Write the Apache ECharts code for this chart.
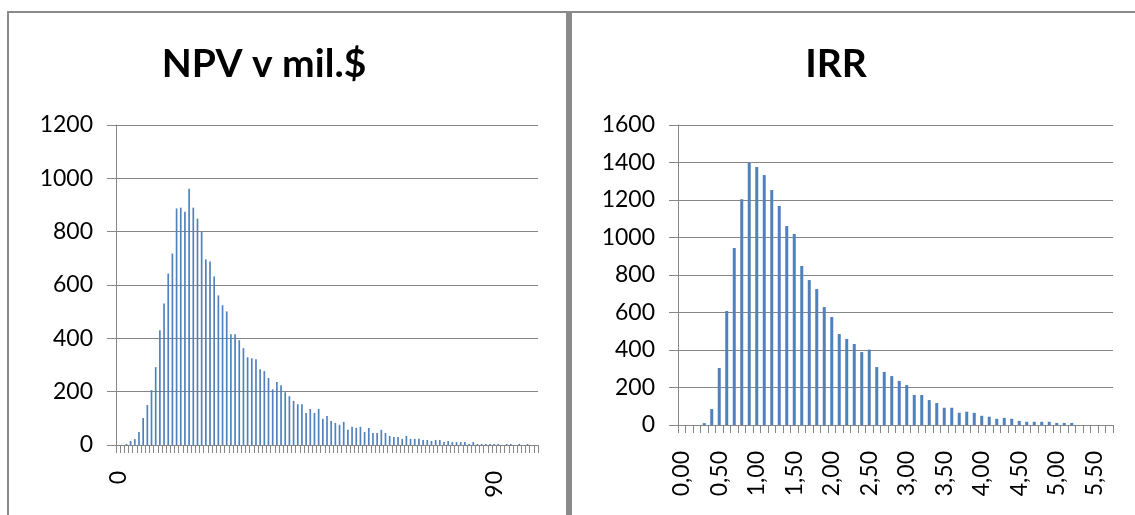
<!DOCTYPE html>
<html>
<head>
<meta charset="utf-8">
<script src="https://cdn.jsdelivr.net/npm/echarts@6/dist/echarts.min.js"></script>
<style>
  html, body { margin: 0; padding: 0; background: #fff; }
  #chart { width: 1135px; height: 515px; }
</style>
</head>
<body>
<div id="chart"></div>
<script>
// NPV histogram: bins of 1 mil.$ from 0 to 100
const npvBins = Array.from({ length: 101 }, (_, i) => String(i));
const npvCounts = [
  0, 0, 4, 15, 22, 49, 101, 150, 206, 292,
  430, 531, 643, 718, 887, 890, 875, 961, 890, 849,
  800, 696, 688, 632, 561, 524, 501, 415, 415, 393,
  363, 329, 325, 322, 284, 277, 251, 209, 236, 224,
  198, 183, 165, 153, 153, 120, 135, 120, 135, 98,
  109, 90, 83, 76, 87, 57, 68, 64, 68, 49,
  64, 45, 45, 57, 45, 34, 30, 30, 23, 34,
  23, 23, 23, 19, 19, 15, 19, 19, 11, 15,
  11, 11, 11, 11, 4, 11, 4, 4, 4, 4,
  4, 4, 0, 4, 4, 0, 4, 0, 4, 0,
  0
];

// IRR histogram: bins of 0,10 from 0,00 to 5,70
const irrBins = [
  '0,00', '0,10', '0,20', '0,30', '0,40', '0,50', '0,60', '0,70', '0,80', '0,90',
  '1,00', '1,10', '1,20', '1,30', '1,40', '1,50', '1,60', '1,70', '1,80', '1,90',
  '2,00', '2,10', '2,20', '2,30', '2,40', '2,50', '2,60', '2,70', '2,80', '2,90',
  '3,00', '3,10', '3,20', '3,30', '3,40', '3,50', '3,60', '3,70', '3,80', '3,90',
  '4,00', '4,10', '4,20', '4,30', '4,40', '4,50', '4,60', '4,70', '4,80', '4,90',
  '5,00', '5,10', '5,20', '5,30', '5,40', '5,50', '5,60', '5,70'
];
const irrCounts = [
  0, 0, 0, 10, 85, 304, 608, 944, 1204, 1397,
  1376, 1333, 1253, 1168, 1061, 1019, 848, 773, 725, 629,
  576, 485, 459, 432, 389, 402, 309, 283, 261, 235,
  213, 160, 160, 133, 117, 92, 92, 65, 71, 65,
  49, 44, 33, 38, 33, 22, 17, 17, 17, 17,
  11, 11, 11, 0, 0, 0, 0, 0
];

const titles = ['NPV v mil.$', 'IRR'];

const GRAY = '#868686';
const BORDER = '#8a8a8a';
const BAR = '#4f81bd';
const FONT = 'Lato, "Open Sans", sans-serif';

function catAxis(gridIndex, data, labelInterval) {
  return {
    type: 'category',
    gridIndex,
    data,
    boundaryGap: true,
    axisLine: { show: true, lineStyle: { color: GRAY, width: 1 } },
    axisTick: { show: true, interval: 0, length: 8, lineStyle: { color: GRAY, width: 1 } },
    axisLabel: {
      interval: labelInterval,
      rotate: 90,
      margin: 26,
      color: '#000',
      fontFamily: FONT,
      fontSize: 23
    },
    splitLine: { show: false }
  };
}

function valAxis(gridIndex, max) {
  return {
    type: 'value',
    gridIndex,
    min: 0,
    max,
    interval: 200,
    axisLine: { show: true, lineStyle: { color: GRAY, width: 1 } },
    axisTick: { show: true, length: 9, lineStyle: { color: GRAY, width: 1 } },
    axisLabel: {
      margin: 23, color: '#000', fontFamily: FONT, fontSize: 23,
      formatter: (v) => String(v)
    },
    splitLine: { show: true, lineStyle: { color: GRAY, width: 1 } }
  };
}

const chart = echarts.init(document.getElementById('chart'), null, { renderer: 'canvas' });

chart.setOption({
  backgroundColor: '#fff',
  animation: false,
  graphic: [
    // panel frames
    { type: 'rect', shape: { x: 7, y: 11, width: 1128, height: 2 }, style: { fill: BORDER } },
    { type: 'rect', shape: { x: 7, y: 11, width: 2, height: 504 }, style: { fill: BORDER } },
    { type: 'rect', shape: { x: 566, y: 11, width: 6, height: 504 }, style: { fill: BORDER } },
    // chart titles
    {
      type: 'text', x: 264, y: 64,
      style: {
        text: titles[0], fill: '#000', font: 'bold 39px ' + FONT,
        textAlign: 'center', textVerticalAlign: 'middle', align: 'center', verticalAlign: 'middle'
      }
    },
    {
      type: 'text', x: 836, y: 64,
      style: {
        text: titles[1], fill: '#000', font: 'bold 39px ' + FONT,
        textAlign: 'center', textVerticalAlign: 'middle', align: 'center', verticalAlign: 'middle'
      }
    }
  ],
  grid: [
    { left: 116, top: 125, width: 422, height: 320, containLabel: false },
    { left: 678, top: 125, width: 435, height: 300, containLabel: false }
  ],
  xAxis: [
    catAxis(0, npvBins, 89),
    catAxis(1, irrBins, 4)
  ],
  yAxis: [
    valAxis(0, 1200),
    valAxis(1, 1600)
  ],
  series: [
    {
      name: titles[0], type: 'bar', xAxisIndex: 0, yAxisIndex: 0,
      data: npvCounts, barCategoryGap: '60%',
      itemStyle: { color: BAR }
    },
    {
      name: titles[1], type: 'bar', xAxisIndex: 1, yAxisIndex: 1,
      data: irrCounts, barCategoryGap: '60%',
      itemStyle: { color: BAR }
    }
  ]
});
</script>
</body>
</html>
